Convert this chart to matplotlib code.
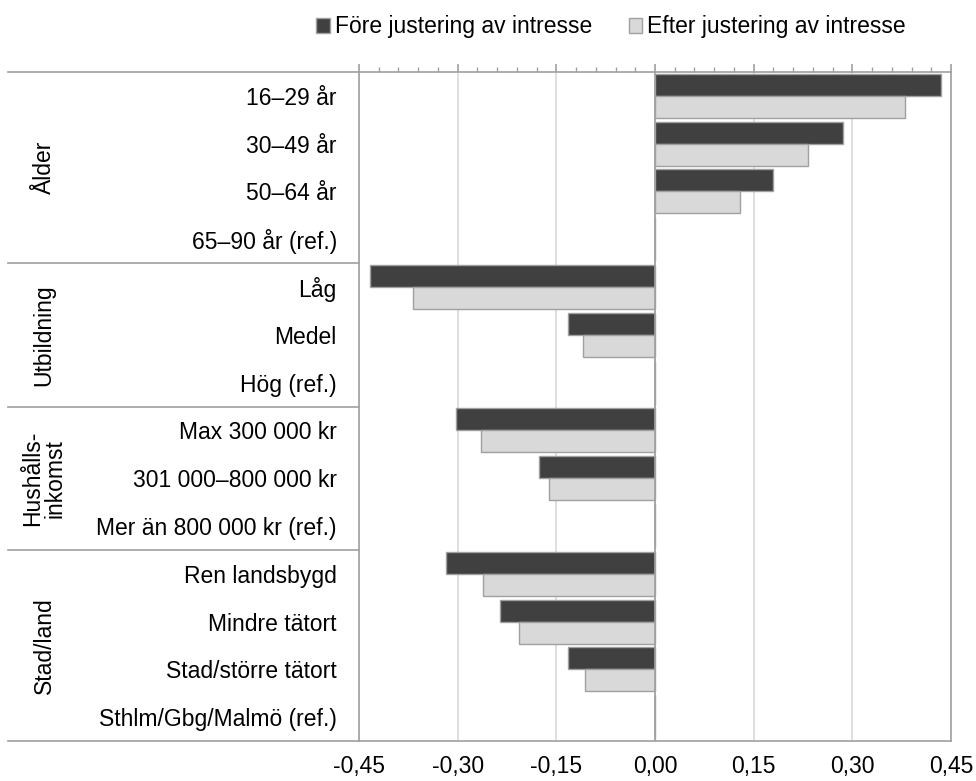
import numpy as np
import matplotlib
matplotlib.use("Agg")
import matplotlib.pyplot as plt
import matplotlib.transforms as mtransforms
from matplotlib.patches import Patch
from matplotlib.ticker import MultipleLocator, FuncFormatter

plt.rcParams['font.family'] = ['Liberation Sans', 'DejaVu Sans']

# Data
categories = [
    "16–29 år", "30–49 år", "50–64 år", "65–90 år (ref.)",
    "Låg", "Medel", "Hög (ref.)",
    "Max 300 000 kr", "301 000–800 000 kr", "Mer än 800 000 kr (ref.)",
    "Ren landsbygd", "Mindre tätort", "Stad/större tätort", "Sthlm/Gbg/Malmö (ref.)",
]
fore = [0.435, 0.286, 0.179, 0.0,
        -0.433, -0.132, 0.0,
        -0.303, -0.177, 0.0,
        -0.318, -0.236, -0.132, 0.0]
efter = [0.380, 0.233, 0.129, 0.0,
         -0.368, -0.109, 0.0,
         -0.264, -0.161, 0.0,
         -0.261, -0.206, -0.106, 0.0]
groups = ["Ålder", "Utbildning", "Hushålls-\ninkomst", "Stad/land"]
group_sizes = [4, 3, 3, 4]
series_names = ["Före justering av intresse", "Efter justering av intresse"]

dark = "#404040"
light = "#d9d9d9"
edge = "#a0a0a0"
fs = 16.5

fig = plt.figure(figsize=(9.76, 7.81), dpi=100)
ax = fig.add_axes([359 / 976, 1 - 741 / 781, 592 / 976, 669 / 781])

y = np.arange(len(categories))
h = 0.46
ax.barh(y - h / 2, fore, height=h, color=dark, edgecolor=edge, linewidth=1, zorder=3)
ax.barh(y + h / 2, efter, height=h, color=light, edgecolor=edge, linewidth=1, zorder=3)

ax.set_xlim(-0.45, 0.45)
ax.set_ylim(len(categories) - 0.5, -0.5)

ax.xaxis.set_major_locator(MultipleLocator(0.15))
ax.xaxis.set_minor_locator(MultipleLocator(0.03))
ax.xaxis.set_major_formatter(FuncFormatter(lambda v, p: f"{v:.2f}".replace(".", ",").replace("-0,00", "0,00")))
ax.tick_params(axis='x', which='both', bottom=False, top=True, labelbottom=True,
               labeltop=False, direction='out', color=edge, labelsize=fs, pad=4)
ax.tick_params(axis='x', which='major', length=6, width=1.2)
ax.tick_params(axis='x', which='minor', length=3.5, width=1)

ax.set_yticks(y)
ax.set_yticklabels(categories, fontsize=fs)
ax.tick_params(axis='y', length=0, pad=16)

ax.grid(axis='x', which='major', color="#d9d9d9", linewidth=1.2, zorder=0)
ax.axvline(0, color=edge, linewidth=1.2, zorder=4)
for s in ax.spines.values():
    s.set_color(edge)
    s.set_linewidth(1.2)

# group separators and labels
trans = mtransforms.blended_transform_factory(fig.transFigure, ax.transData)
x0 = 8 / 976
x1 = 359 / 976
start = 0
bounds = [-0.5]
for g, n in zip(groups, group_sizes):
    end = start + n
    bounds.append(end - 0.5)
    mid = (start + end - 1) / 2
    ax.text(44 / 976, mid, g, transform=trans, rotation=90, ha='center', va='center',
            fontsize=fs, linespacing=0.95)
    start = end
for b in bounds:
    ax.plot([x0, x1], [b, b], transform=trans, color=edge, linewidth=1.2, clip_on=False)

handles = [Patch(facecolor=dark, edgecolor=edge), Patch(facecolor=light, edgecolor=edge)]
fig.legend(handles, series_names, loc='center', bbox_to_anchor=(611 / 976, 1 - 27 / 781),
           ncol=2, frameon=False, fontsize=fs, handlelength=0.6, handleheight=0.6,
           handletextpad=0.2, columnspacing=1.6)

fig.savefig("out.png", dpi=100)
